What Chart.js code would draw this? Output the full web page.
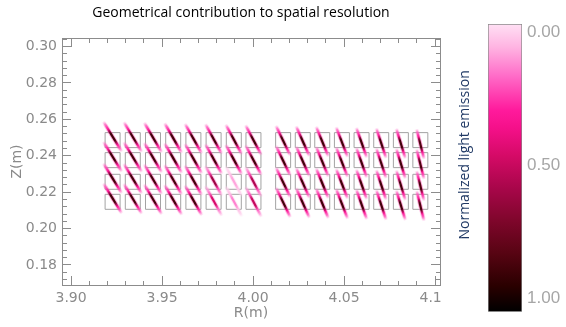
<!DOCTYPE html>
<html>
<head>
<meta charset="utf-8">
<script src="https://cdn.jsdelivr.net/npm/chart.js@4.4.1/dist/chart.umd.min.js"></script>
<style>
  html, body { margin: 0; padding: 0; background: #fff; }
  #wrap { position: relative; width: 566px; height: 327px; overflow: hidden; }
  #main { position: absolute; left: 0; top: 0; }
  #cbar { position: absolute; left: 442px; top: 0; background: #fff; }
</style>
</head>
<body>
<div id="wrap">
  <canvas id="main" width="482" height="327"></canvas>
  <canvas id="cbar" width="124" height="327"></canvas>
</div>
<script>
// detector cell centres (m)
const colR = [3.9228, 3.9339, 3.9450, 3.9561, 3.9672, 3.9783, 3.9894, 4.0002,
              4.0165, 4.0273, 4.0380, 4.0488, 4.0596, 4.0704, 4.0812, 4.0919];
const rowZ = [0.2486, 0.2376, 0.2257, 0.2147];

// line of sight through each cell: half extent in R, vertical shift (m)
const tiltR = [0.0052, 0.0051, 0.0050, 0.0049, 0.0048, 0.0047, 0.0046, 0.0045,
               0.0041, 0.0038, 0.0035, 0.0033, 0.0030, 0.0028, 0.0026, 0.0021];
const shiftZ = [0.0019, 0.0017, 0.0014, 0.0011, 0.0008, 0.0006, 0.0003, 0.0000,
                -0.0003, -0.0006, -0.0008, -0.0011, -0.0014, -0.0017, -0.0019, -0.0022];
const halfZ = 0.0085;

// normalized light emission at the core of each chord (rows top to bottom)
const emission = [
  [0.85, 0.85, 0.85, 0.85, 0.85, 0.85, 0.85, 0.85, 0.85, 0.85, 0.85, 0.85, 0.85, 0.85, 0.85, 0.82],
  [0.85, 0.85, 0.85, 0.85, 0.85, 0.85, 0.85, 0.85, 0.85, 0.85, 0.85, 0.85, 0.85, 0.85, 0.85, 0.82],
  [0.85, 0.85, 0.85, 0.85, 0.85, 0.60, 0.10, 0.55, 0.85, 0.85, 0.85, 0.85, 0.85, 0.85, 0.85, 0.82],
  [0.85, 0.85, 0.85, 0.85, 0.85, 0.45, 0.15, 0.50, 0.85, 0.85, 0.85, 0.85, 0.85, 0.85, 0.85, 0.82]
];

const rTicks = [3.90, 3.95, 4.00, 4.05, 4.10];
const zTicks = [0.18, 0.20, 0.22, 0.24, 0.26, 0.28, 0.30];
const cbarTicks = [0, 0.5, 1];
const cbarRange = [0, 1];

// colour table of the colour bar
const cmapStops = [
  [0.00, '#ffe0f4'], [0.08, '#ffb4e2'], [0.18, '#ff6cc8'], [0.30, '#ff1a9c'],
  [0.36, '#f5108a'], [0.46, '#d40a66'], [0.57, '#a8064a'], [0.68, '#80062c'],
  [0.80, '#560412'], [0.91, '#2a0000'], [1.00, '#000000']
];

function hexRgb(h) {
  const n = parseInt(h.slice(1), 16);
  return [n >> 16, (n >> 8) & 255, n & 255];
}

function cmap(v, a) {
  v = Math.max(0, Math.min(1, v));
  if (a === undefined) a = 1;
  for (let i = 1; i < cmapStops.length; i++) {
    const t1 = cmapStops[i][0];
    if (v <= t1) {
      const t0 = cmapStops[i - 1][0];
      const f = (v - t0) / (t1 - t0);
      const c0 = hexRgb(cmapStops[i - 1][1]), c1 = hexRgb(cmapStops[i][1]);
      const c = c0.map((x, k) => Math.round(x + (c1[k] - x) * f));
      return 'rgba(' + c.join(',') + ',' + a + ')';
    }
  }
  return 'rgba(0,0,0,' + a + ')';
}

// gradient along a chord: pink tails, emission colour in the middle
function chordColor(ctx) {
  const chart = ctx.chart;
  const ds = chart.data.datasets[ctx.datasetIndex];
  const v = ds.emission;
  if (!chart.chartArea) return cmap(v);
  const sx = chart.scales.x, sy = chart.scales.y;
  const p = ds.data;
  const x0 = sx.getPixelForValue(p[0].x), y0 = sy.getPixelForValue(p[0].y);
  const x1 = sx.getPixelForValue(p[1].x), y1 = sy.getPixelForValue(p[1].y);
  if (![x0, y0, x1, y1].every(isFinite)) return cmap(v);
  const edge = v * 0.33 / 0.85;
  const g = chart.ctx.createLinearGradient(x0, y0, x1, y1);
  if (ds.halo) {
    g.addColorStop(0, cmap(edge * 0.5, 0));
    g.addColorStop(0.15, cmap(edge * 0.7, 0.35));
    g.addColorStop(0.5, cmap(edge, 0.42));
    g.addColorStop(0.85, cmap(edge * 0.7, 0.35));
    g.addColorStop(1, cmap(edge * 0.5, 0));
  } else {
    g.addColorStop(0, cmap(edge * 0.3, 0));
    g.addColorStop(0.1, cmap(edge * 0.6, 0.7));
    g.addColorStop(0.26, cmap(edge));
    g.addColorStop(0.4, cmap(v));
    g.addColorStop(0.62, cmap(v));
    g.addColorStop(0.76, cmap(edge));
    g.addColorStop(0.9, cmap(edge * 0.6, 0.7));
    g.addColorStop(1, cmap(edge * 0.3, 0));
  }
  return g;
}

// major ticks plus 5 minor subdivisions, reaching out to the axis ends
function withMinor(major, min, max) {
  const step = (major[1] - major[0]) / 5;
  const out = [];
  let v = major[0] - Math.floor((major[0] - min) / step + 1e-9) * step;
  for (; v <= max + 1e-9; v += step) out.push(+v.toFixed(6));
  return out;
}
const isMajor = (list, v) => list.some(m => Math.abs(m - v) < 1e-6);

const rMin = 3.895, rMax = 4.1027, zMin = 0.169, zMax = 0.3047;
const axisGrey = '#8c8c8c', textGrey = '#8a8a8a';
const tickFont = { family: 'DejaVu Sans', size: 14 };

function boxAxis(pos, major, min, max, size, extra) {
  const horizontal = pos === 'top' || pos === 'bottom';
  const innerStart = pos === 'top' || pos === 'left';
  return Object.assign({
    type: 'linear',
    position: pos,
    min: min,
    max: max,
    afterBuildTicks: s => { s.ticks = withMinor(major, min, max).map(v => ({ value: v })); },
    afterFit: s => { if (horizontal) s.height = size; else s.width = size; },
    border: { display: true, color: axisGrey, width: 1 },
    grid: {
      drawOnChartArea: false,
      drawTicks: true,
      tickLength: -9,
      tickColor: axisGrey,
      tickWidth: 1,
      tickBorderDash: c => isMajor(major, c.tick.value) ? [] : (innerStart ? [0, 4, 6, 100] : [5, 100])
    },
    ticks: { display: false, autoSkip: false, maxRotation: 0 }
  }, extra || {});
}

const cells = [];
rowZ.forEach(z => colR.forEach(r => cells.push({ x: r, y: z })));

const chords = [];
[true, false].forEach(halo => {
  rowZ.forEach((z, i) => colR.forEach((r, j) => {
    chords.push({
      data: [
        { x: r - tiltR[j], y: z + shiftZ[j] + halfZ },
        { x: r + tiltR[j], y: z + shiftZ[j] - halfZ }
      ],
      emission: emission[i][j],
      halo: halo,
      showLine: true,
      pointRadius: 0,
      borderWidth: halo ? 4 : 2.2,
      borderColor: chordColor,
      pointBorderColor: 'rgba(0,0,0,0)',
      order: halo ? 1 : 0
    });
  }));
});

new Chart(document.getElementById('main').getContext('2d'), {
  type: 'scatter',
  data: {
    datasets: [...chords, {
      data: cells,
      pointStyle: 'rect',
      pointRadius: 10.6,
      pointBorderWidth: 1,
      pointBorderColor: '#a3a3a3',
      pointBackgroundColor: 'rgba(0,0,0,0)',
      showLine: false,
      order: 2
    }]
  },
  options: {
    responsive: false,
    animation: false,
    events: [],
    layout: { padding: 0 },
    plugins: {
      legend: { display: false },
      tooltip: { enabled: false },
      title: {
        display: true,
        text: 'Geometrical contribution to spatial resolution',
        color: '#000',
        font: { family: 'Open Sans', size: 14, weight: 'normal', lineHeight: '16px' },
        padding: { top: 5, bottom: 0 }
      }
    },
    scales: {
      x: boxAxis('bottom', rTicks, rMin, rMax, 42, {
        ticks: {
          display: true, autoSkip: false, maxRotation: 0, padding: 14,
          color: textGrey, font: tickFont,
          callback: v => isMajor(rTicks, v) ? v.toFixed(2) : ''
        },
        title: { display: true, text: 'R(m)', color: textGrey, font: tickFont, padding: { bottom: 5 } }
      }),
      x2: boxAxis('top', rTicks, rMin, rMax, 17),
      y: boxAxis('left', zTicks, zMin, zMax, 62, {
        ticks: {
          display: true, autoSkip: false, padding: 14,
          color: textGrey, font: tickFont,
          callback: v => isMajor(zTicks, v) ? v.toFixed(2) : ''
        },
        title: { display: true, text: 'Z(m)', color: textGrey, font: tickFont, padding: { top: 9 } }
      }),
      y2: boxAxis('right', zTicks, zMin, zMax, 42)
    }
  }
});

// colour bar
function barGradient(ctx) {
  const a = ctx.chart.chartArea;
  if (!a) return cmap(0.5);
  const g = ctx.chart.ctx.createLinearGradient(0, a.top, 0, a.bottom);
  cmapStops.forEach(s => g.addColorStop(s[0], s[1]));
  return g;
}

new Chart(document.getElementById('cbar').getContext('2d'), {
  type: 'bar',
  data: {
    labels: [''],
    datasets: [{
      data: [cbarRange],
      yAxisID: 'yb',
      backgroundColor: barGradient,
      borderColor: '#8a8a8a',
      borderWidth: 1,
      borderSkipped: false,
      barPercentage: 1,
      categoryPercentage: 1
    }]
  },
  options: {
    responsive: false,
    animation: false,
    events: [],
    layout: { padding: { top: 24, bottom: 7, left: 0, right: 0 } },
    plugins: { legend: { display: false }, tooltip: { enabled: false } },
    scales: {
      x: { display: false },
      yb: { display: false, min: 0, max: 1, reverse: true },
      y: {
        position: 'right',
        min: -0.03, max: 1.05, reverse: true,
        afterBuildTicks: s => { s.ticks = cbarTicks.map(v => ({ value: v })); },
        afterFit: s => { s.width = 44; },
        grid: { display: false, drawTicks: false },
        border: { display: false },
        ticks: {
          padding: 5, color: '#a6a6a6',
          font: { family: 'Liberation Sans', size: 17 },
          callback: v => v.toFixed(2)
        }
      },
      // the left stack only places the colour bar caption
      lbl2: {
        type: 'linear', position: 'left', stack: 'L', stackWeight: 26,
        afterFit: s => { s.width = 46; },
        grid: { display: false }, border: { display: false },
        ticks: { display: false }
      },
      lbl: {
        type: 'linear', position: 'left', stack: 'L', stackWeight: 262,
        afterFit: s => { s.width = 46; },
        grid: { display: false }, border: { display: false },
        ticks: { display: false },
        title: {
          display: true, text: 'Normalized light emission', color: '#1f3864',
          font: { family: 'Open Sans', size: 14 }, padding: { top: 15 }
        }
      }
    }
  }
});
</script>
</body>
</html>
